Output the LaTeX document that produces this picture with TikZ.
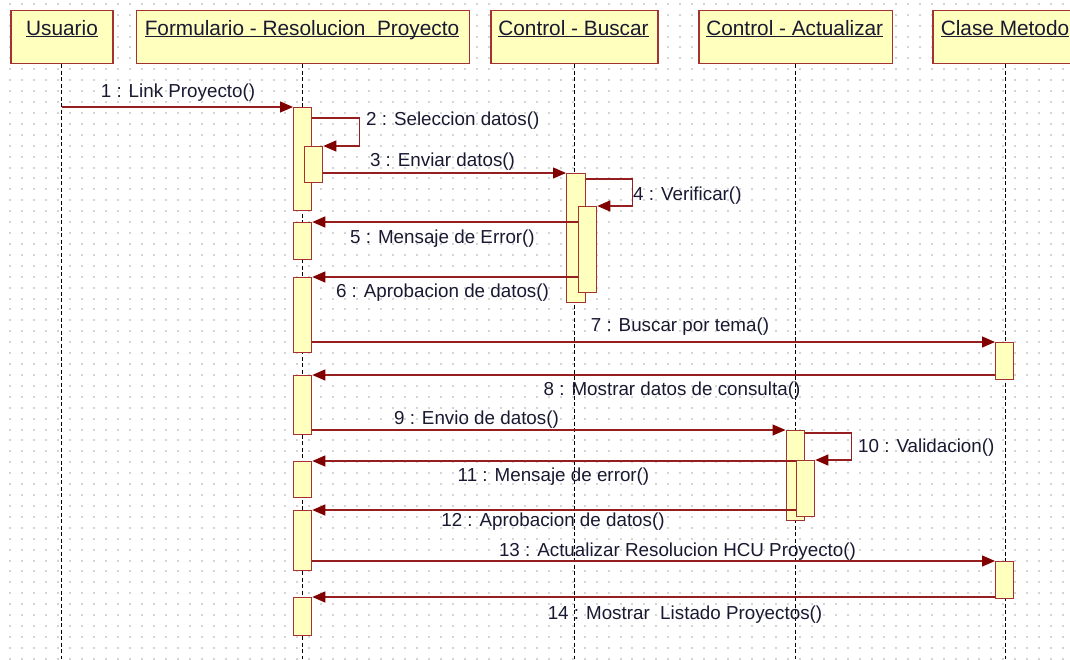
\documentclass[tikz,border=0pt]{standalone}
\usepackage{fontspec}
\setmainfont{Liberation Sans}
\usetikzlibrary{arrows.meta}
\definecolor{boxfill}{RGB}{255,255,190}
\definecolor{boxline}{RGB}{165,50,50}
\definecolor{msgline}{RGB}{150,30,30}
\definecolor{tipc}{RGB}{128,0,0}
\definecolor{txt}{RGB}{25,25,50}
\definecolor{dotc}{RGB}{212,212,212}
\newcommand{\hul}[1]{\underline{\smash{#1}}}
\begin{document}
\begin{tikzpicture}[x=1pt,y=-1pt,
  head/.style={draw=boxline,fill=boxfill,line width=1.5pt,rectangle,inner sep=0,anchor=north west,minimum height=53pt},
  hdtext/.style={anchor=base,inner sep=0,text=txt,font=\fontsize{20.8}{24}\selectfont},
  lifeline/.style={black,line width=1.3pt,dash pattern=on 4pt off 2.5pt},
  act/.style={draw=boxline,fill=boxfill,line width=1.3pt,rectangle,inner sep=0,anchor=north west,minimum width=18pt},
  msg/.style={draw=msgline,line width=1.3pt,-{Triangle[length=13pt,width=11pt,color=tipc]}},
  lbl/.style={anchor=base,inner sep=0,text=txt,font=\fontsize{18.8}{22}\selectfont},
]
\useasboundingbox (0,0) rectangle (1070,659);
\clip (0,0) rectangle (1070,659);
\fill[white] (0,0) rectangle (1070,659);
% dotted grid
\foreach \k in {0,...,60}{
  \draw[dotc,line width=2pt,dash pattern=on 2pt off 9.965pt] (9.3,{3.8+10.916*\k}) -- (1070,{3.8+10.916*\k});
}
\coordinate (bot) at (0,659);
% heads
\node[head,minimum width=102pt] (hU) at (10,9.5) {};
\node[head,minimum width=333pt] (hF) at (135.5,9.5) {};
\node[head,minimum width=167pt] (hB) at (490,9.5) {};
\node[head,minimum width=193.5pt] (hA) at (698,9.5) {};
\node[head,minimum width=146pt] (hC) at (932,9.5) {};
\node[hdtext] (tU) at (62,35) {\hul{Usuario}};
\node[hdtext] (tF) at (302,35) {\hul{Formulario - Resolucion\ \ Proyecto}};
\node[hdtext] (tB) at (573.5,35) {\hul{Control - Buscar}};
\node[hdtext] (tA) at (794.75,35) {\hul{Control - Actualizar}};
\node[hdtext] (tC) at (1005,35) {\hul{Clase Metodo}};
% lifelines
\draw[lifeline] (hU.south) -- (hU.south |- bot);
\draw[lifeline] (hF.south) -- (hF.south |- bot);
\draw[lifeline] (hB.south) -- (hB.south |- bot);
\draw[lifeline] (hA.south) -- (hA.south |- bot);
\draw[lifeline] (hC.south) -- (hC.south |- bot);
% activations
\node[act,minimum height=103pt] (a1) at (293,107) {};
\node[act,minimum height=36pt] (a2) at (304,146) {};
\node[act,minimum height=37pt] (a3) at (293,222) {};
\node[act,minimum height=75pt] (a4) at (293,277) {};
\node[act,minimum height=59pt] (a5) at (293,375) {};
\node[act,minimum height=36pt] (a6) at (293,461) {};
\node[act,minimum height=60pt] (a7) at (293,510) {};
\node[act,minimum height=38pt] (a8) at (293,597) {};
\node[act,minimum width=19pt,minimum height=129pt] (b1) at (566,173) {};
\node[act,minimum height=86pt] (b2) at (578,206) {};
\node[act,minimum height=37pt] (c1) at (995,342) {};
\node[act,minimum height=37pt] (c2) at (995,561) {};
\node[act,minimum height=90pt] (d1) at (785.5,430) {};
\node[act,minimum height=56pt] (d2) at (796,460) {};
% messages
\draw[msg] (hU.south |- a1.north) -- (a1.north west);
\draw[msg] ([yshift=-11pt]a1.north east) -- ++(47,0) |- (a2.north east);
\draw[msg] (a2.east |- b1.north) -- (b1.north west);
\draw[msg] ([yshift=-6pt]b1.north east) -- ++(46,0) |- (b2.north east);
\draw[msg] (b2.west |- a3.north) -- (a3.north east);
\draw[msg] (b2.west |- a4.north) -- (a4.north east);
\draw[msg] (a4.east |- c1.north) -- (c1.north west);
\draw[msg] (c1.west |- a5.north) -- (a5.north east);
\draw[msg] (a5.east |- d1.north) -- (d1.north west);
\draw[msg] ([yshift=-3pt]d1.north east) -- ++(47,0) |- (d2.north east);
\draw[msg] (d2.west |- a6.north) -- (a6.north east);
\draw[msg] (d2.west |- a7.north) -- (a7.north east);
\draw[msg] (a7.east |- c2.north) -- (c2.north west);
\draw[msg] (c2.west |- a8.north) -- (a8.north east);
% labels
\node[lbl] (l1) at (178,97) {1 : Link Proyecto()};
\node[lbl,anchor=base west] (l2) at (366,125) {2 : Seleccion datos()};
\node[lbl] (l3) at (442.5,166) {3 : Enviar datos()};
\node[lbl,anchor=base west] (l4) at (633,200) {4 : Verificar()};
\node[lbl] (l5) at (442.5,243) {5 : Mensaje de Error()};
\node[lbl] (l6) at (442.5,297) {6 : Aprobacion de datos()};
\node[lbl] (l7) at (680,331) {7 : Buscar por tema()};
\node[lbl] (l8) at (672,395) {8 : Mostrar datos de consulta()};
\node[lbl] (l9) at (476.5,424) {9 : Envio de datos()};
\node[lbl,anchor=base west] (l10) at (858,452) {10 : Validacion()};
\node[lbl] (l11) at (553.5,481) {11 : Mensaje de error()};
\node[lbl] (l12) at (553,526) {12 : Aprobacion de datos()};
\node[lbl] (l13) at (677.5,556) {13 : Actualizar Resolucion HCU Proyecto()};
\node[lbl] (l14) at (685,619) {14 : Mostrar\ \ Listado Proyectos()};
\end{tikzpicture}
\end{document}
